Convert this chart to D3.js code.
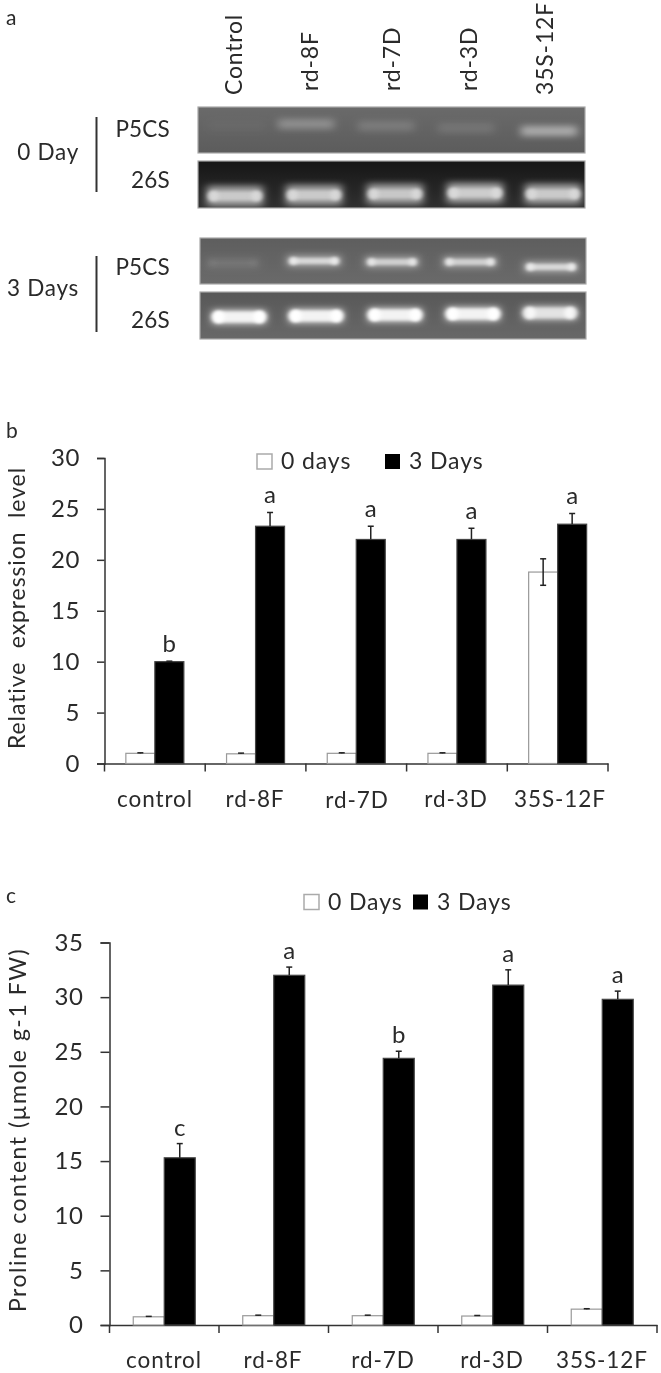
<!DOCTYPE html>
<html><head><meta charset="utf-8">
<script src="https://cdn.jsdelivr.net/npm/d3@7"></script>
<style>html,body{margin:0;padding:0;background:#fff}svg{display:block;filter:blur(0.35px)}text{font-family:Lato,"Open Sans",sans-serif;fill:#2a2a2a;white-space:pre}</style>
</head><body><svg id="c" width="661" height="1373"></svg>
<script>
// Shared
const lanes=["Control","rd-8F","rd-7D","rd-3D","35S-12F"];
const categories=["control","rd-8F","rd-7D","rd-3D","35S-12F"];
// Panel a band brightness (0-1)
const p5cs0=[0.06,0.5,0.28,0.2,0.85];
const s26_0=[0.92,0.92,0.9,0.94,0.92];
const p5cs3=[0.2,0.95,0.9,0.9,0.95];
const s26_3=[1,1,1,1,0.88];
// Panel b
const bTicks=[0,5,10,15,20,25,30];
const b0=[1,0.95,1,1,18.8];
const b3=[10,23.3,22,22,23.5];
const b0Err=[0.05,0.07,0.05,0.05,1.3];
const b3Err=[0.05,1.35,1.3,1.1,1.05];
const bLetters=["b","a","a","a","a"];
// Panel c
const cTicks=[0,5,10,15,20,25,30,35];
const c0=[0.75,0.85,0.85,0.82,1.45];
const c3=[15.3,32,24.4,31.1,29.8];
const c0Err=[0.04,0.05,0.05,0.05,0.04];
const c3Err=[1.3,0.75,0.65,1.4,0.75];
const cLetters=["c","a","b","a","a"];

const svg=d3.select("#c");
const defs=svg.append("defs");
function blur(id,sd){defs.append("filter").attr("id",id).attr("x","-30%").attr("y","-100%").attr("width","160%").attr("height","300%")
 .append("feGaussianBlur").attr("stdDeviation",sd);}
blur("blurB","4 3.4");blur("blurS","2.2 1.8");

function label(t,x,y,size,anchor,rot,sp){
  const e=svg.append("text").text(t).attr("font-size",size).attr("text-anchor",anchor||"start")
   .attr("letter-spacing",sp==null?0.6:sp);
  if(rot) e.attr("transform",`translate(${x},${y}) rotate(${rot})`); else e.attr("x",x).attr("y",y);
  return e;
}
label("a",6,25,21);label("b",6,438,21);label("c",6,903,21);

// Gels
const laneX=d3.scalePoint().domain(lanes).range([236,552]);
function gel(x0,x1,y0,y1,vals,cfg){
  const g=svg.append("g");
  const cid="clip"+y0; defs.append("clipPath").attr("id",cid).append("rect").attr("x",x0).attr("y",y0).attr("width",x1-x0).attr("height",y1-y0);
  const id="grad"+y0;const lg=defs.append("linearGradient").attr("id",id).attr("x1",0).attr("y1",0).attr("x2",0).attr("y2",1);
  lg.append("stop").attr("offset",0).attr("stop-color",cfg.top);lg.append("stop").attr("offset",1).attr("stop-color",cfg.bot);
  g.append("rect").attr("x",x0).attr("y",y0).attr("width",x1-x0).attr("height",y1-y0).attr("fill",`url(#${id})`).attr("stroke","#a8a8a8").attr("stroke-width",1.2);
  const inner=g.append("g").attr("clip-path",`url(#${cid})`);
  const lx=i=>laneX(lanes[i])+cfg.dx[i];
  inner.append("g").attr("filter","url(#blurB)").selectAll("rect").data(vals).join("rect")
   .attr("x",(d,i)=>lx(i)-cfg.w/2).attr("y",(d,i)=>cfg.cy[i]-cfg.h/2)
   .attr("width",cfg.w).attr("height",cfg.h).attr("fill",cfg.glow).attr("opacity",d=>d);
  if(cfg.core){
    inner.append("g").attr("filter","url(#blurS)").selectAll("rect").data(vals).join("rect")
     .attr("x",(d,i)=>lx(i)-cfg.w/2+4).attr("y",(d,i)=>cfg.cy[i]-cfg.coreH/2)
     .attr("width",cfg.w-8).attr("height",cfg.coreH).attr("rx",3).attr("fill",cfg.core).attr("opacity",d=>d*d*0.8);
    const lobes=inner.append("g").attr("filter","url(#blurS)");
    vals.forEach((d,i)=>[-1,1].forEach(s=>{
      lobes.append("circle").attr("cx",lx(i)+s*(cfg.w/2-6)).attr("cy",cfg.cy[i]).attr("r",cfg.coreH/2+1)
       .attr("fill",cfg.core).attr("opacity",d*d);
    }));
  }
}
gel(198,585,107,153,p5cs0,{w:56,h:10,glow:"#b8b8b8",cy:[126,124,126,128,131],dx:[1,-9,-8,-7,-3],top:"#6a6a6a",bot:"#5c5c5c"});
gel(198,585,161,208,s26_0,{w:56,h:20,glow:"#b0b0b0",cy:[196,195,194,193,194],dx:[-1,-1,1,2,1],core:"#dcdcdc",coreH:9,top:"#161616",bot:"#303030"});
gel(200,586,238,284,p5cs3,{w:54,h:12,glow:"#a4a4a4",cy:[263,261,262,262,267],dx:[-3,-1,-2,-3,-1],core:"#eeeeee",coreH:6,top:"#5e5e5e",bot:"#6a6a6a"});
gel(200,586,292,339,s26_3,{w:54,h:15,glow:"#c4c4c4",cy:[317,316,315,314,313],dx:[3,1,1,0,-2],core:"#ffffff",coreH:11,top:"#585858",bot:"#686868"});

// Rotated lane labels
[241.5,318,400,477,553].forEach((x,i)=>label(lanes[i],x,i==0||i==4?95:91,23,"start",-90,0.8));
label("P5CS",170,137,22.5,"end",null,0.2);label("26S",170,188,22.5,"end",null,0.2);
label("P5CS",170,275,22.5,"end",null,0.2);label("26S",170,328,22.5,"end",null,0.2);
label("0 Day",79,160,22.5,"end",null,0.7);label("3 Days",79,296,22.5,"end",null,0.7);
svg.append("line").attr("x1",96.5).attr("x2",96.5).attr("y1",117).attr("y2",192).attr("stroke","#333").attr("stroke-width",2);
svg.append("line").attr("x1",96.5).attr("x2",96.5).attr("y1",256).attr("y2",332).attr("stroke","#333").attr("stroke-width",2);

// Bar panels
function panel(o){
  const g=svg.append("g");
  const y=d3.scaleLinear().domain(o.domain).range([o.y0,o.y1]);
  const x=d3.scaleBand().domain(categories).range([o.x0,o.x1]);
  const yAxis=d3.axisLeft(y).tickValues(o.ticks).tickSize(o.tick).tickPadding(o.pad);
  const xAxis=d3.axisBottom(x).tickValues([]).tickSize(0);
  const ga=g.append("g").attr("transform",`translate(${o.x0},0)`).call(yAxis);
  ga.selectAll("text").attr("font-size",24).attr("letter-spacing",0.6).attr("fill","#2a2a2a");
  ga.selectAll("line,path").attr("stroke","#333").attr("stroke-width",1.5);
  const gx=g.append("g").attr("transform",`translate(0,${o.y0})`).call(xAxis);
  gx.selectAll("path").attr("stroke","#333").attr("stroke-width",1.5);
  const bw=o.bw;
  const edges=x.domain().map(c=>x(c)).concat([o.x1]);
  g.selectAll(".et").data(edges).join("line").attr("x1",d=>d).attr("x2",d=>d).attr("y1",o.y0).attr("y2",o.y0+8).attr("stroke","#333").attr("stroke-width",1.5);
  const cx=c=>x(c)+x.bandwidth()/2;
  function series(vals,errs,dx,fill,stroke){
    g.append("g").selectAll("rect").data(vals).join("rect")
     .attr("x",(d,i)=>cx(categories[i])+dx).attr("y",d=>y(d)).attr("width",bw).attr("height",d=>o.y0-y(d))
     .attr("fill",fill).attr("stroke",stroke).attr("stroke-width",1.2);
    const eg=g.append("g").attr("stroke","#222").attr("stroke-width",1.5);
    vals.forEach((v,i)=>{const ex=cx(categories[i])+dx+bw/2;
      const lo=fill=="#fff"&&errs[i]>0.5?v-errs[i]:v;
      eg.append("line").attr("x1",ex).attr("x2",ex).attr("y1",y(v+errs[i])).attr("y2",y(lo));
      eg.append("line").attr("x1",ex-3).attr("x2",ex+3).attr("y1",y(v+errs[i])).attr("y2",y(v+errs[i]));
      if(lo!==v) eg.append("line").attr("x1",ex-3).attr("x2",ex+3).attr("y1",y(lo)).attr("y2",y(lo));
    });
  }
  series(o.v0,o.e0,-bw,"#fff","#999");
  series(o.v3,o.e3,0,"#000","#444");
  o.letters.forEach((l,i)=>{
    g.append("text").text(l).attr("x",cx(categories[i])+bw/2).attr("y",y(o.v3[i]+o.e3[i])-o.lgap).attr("text-anchor","middle").attr("font-size",24).attr("fill","#2a2a2a");
  });
  o.labelX.forEach((lx,i)=>{label(categories[i],lx,o.labelY[i],22.5,"middle",null,0.9);});
  label(o.ylab,o.ylabX,o.ylabY,23,"middle",-90,o.ylabSp);
  const l=o.leg;
  g.append("rect").attr("x",l.x0).attr("y",l.y).attr("width",15).attr("height",15).attr("fill","#fff").attr("stroke","#aaa").attr("stroke-width",1.5);
  g.append("rect").attr("x",l.x1).attr("y",l.y).attr("width",15).attr("height",15).attr("fill","#000");
  label(l.t0,l.x0+24,l.y+15,23,"start",null,0.9);
  label(l.t1,l.x1+24,l.y+15,23,"start",null,0.9);
}
panel({domain:[0,30],ticks:bTicks,y0:763.5,y1:458,x0:104.5,x1:608,bw:29,tick:7.5,pad:17,v0:b0,v3:b3,e0:b0Err,e3:b3Err,letters:bLetters,lgap:9,
  labelX:[155,255,357,456,560],labelY:[807,807,808,807,807],ylab:"Relative  expression  level",ylabX:25,ylabY:608,ylabSp:0.9,
  leg:{x0:257,x1:385,y:454,t0:"0 days",t1:"3 Days"}});
panel({domain:[0,35],ticks:cTicks,y0:1325,y1:942.5,x0:109.5,x1:657,bw:31,tick:9,pad:17,v0:c0,v3:c3,e0:c0Err,e3:c3Err,letters:cLetters,lgap:8,
  labelX:[164,273,383,492,602],labelY:[1368,1368,1368,1368,1368],ylab:"Proline content (µmole g-1 FW)",ylabX:26,ylabY:1130,ylabSp:1.5,
  leg:{x0:304,x1:413,y:894.5,t0:"0 Days",t1:"3 Days"}});
</script></body></html>
